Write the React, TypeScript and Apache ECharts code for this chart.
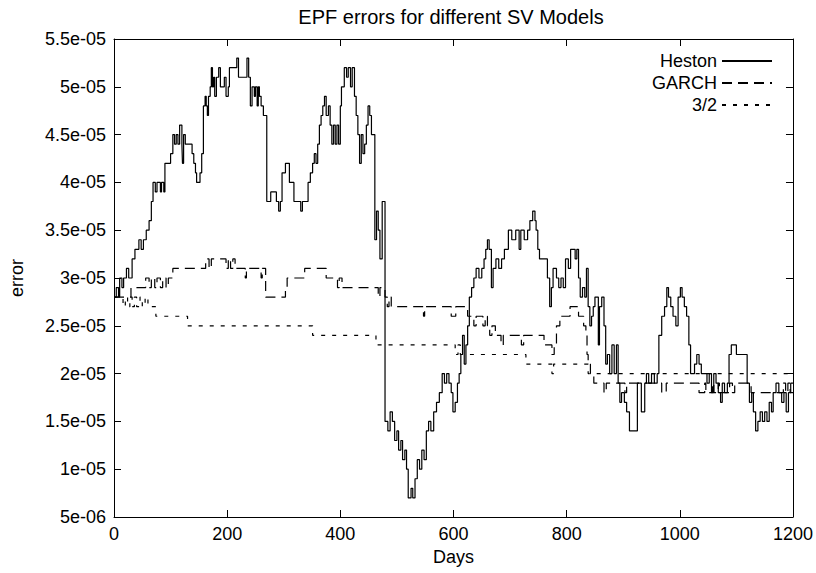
import React, { useEffect, useRef } from "react";
import * as echarts from "echarts";

// Values are in units of 1e-6 (e.g. 28 means 2.8e-05)
const X_TICKS = [0, 200, 400, 600, 800, 1000, 1200];
const Y_MIN = 5;
const Y_MAX = 55;
const Y_STEP = 5;
const SERIES_NAMES = ["Heston", "GARCH", "3/2"];

const HESTON: [number, number][] = [
  [0, 28], [4, 29], [8, 28], [10, 30], [14, 29], [17, 30], [22, 31], [26, 30], [32, 32], [37, 33],
  [44, 34], [48, 33], [52, 34], [57, 35], [62, 36], [66, 38], [69, 40], [73, 39], [76, 40], [82, 39],
  [84, 40], [88, 39], [90, 42], [100, 43], [104, 45], [107, 44], [110, 45], [113, 44], [116, 46], [120, 44],
  [121, 42], [123, 45], [126, 44], [131, 44], [138, 43], [141, 42], [144, 41], [146, 40], [150, 40], [152, 41],
  [155, 43], [158, 48], [161, 49], [163, 48], [165, 47], [167, 49], [170, 50], [172, 52], [174, 50], [176, 51],
  [178, 49], [181, 51], [185, 52], [188, 50], [195, 51], [198, 49], [202, 50], [204, 52], [214, 52], [217, 53],
  [220, 51], [233, 51], [235, 53], [238, 51], [241, 48], [244, 50], [248, 49], [250, 50], [253, 48], [255, 50],
  [257, 49], [260, 48], [264, 47], [268, 47], [270, 38], [277, 39], [287, 38], [291, 37], [294, 38], [297, 41],
  [303, 42], [310, 40], [318, 38], [330, 37], [333, 38], [343, 40], [347, 41], [351, 42], [354, 43], [357, 42],
  [360, 44], [363, 46], [366, 47], [369, 48], [372, 49], [375, 47], [379, 48], [382, 46], [385, 44], [388, 46],
  [391, 44], [394, 46], [397, 44], [400, 48], [402, 50], [407, 52], [411, 51], [414, 52], [418, 50], [421, 52],
  [425, 49], [428, 47], [431, 45], [434, 42], [437, 45], [440, 43], [443, 44], [446, 46], [449, 48], [452, 47],
  [455, 45], [458, 45], [461, 34], [464, 37], [467, 35], [470, 32], [474, 38], [477, 38], [479, 15], [484, 14],
  [488, 16], [492, 15], [496, 13], [500, 14], [503, 12], [507, 13], [510, 11], [514, 12], [517, 10], [520, 7],
  [525, 8], [528, 7], [532, 9], [536, 11], [540, 10], [544, 12], [548, 11], [552, 14], [556, 15], [560, 14],
  [565, 16], [570, 17], [575, 18], [580, 20], [584, 19], [588, 20], [592, 19], [596, 18], [599, 16], [603, 17],
  [607, 19], [610, 20], [613, 22], [616, 24], [619, 21], [622, 23], [625, 25], [628, 28], [632, 29], [636, 30],
  [640, 31], [645, 30], [650, 31], [654, 32], [657, 33], [660, 34], [663, 33], [667, 29], [670, 31], [675, 32],
  [680, 31], [685, 32], [690, 33], [697, 35], [703, 34], [710, 35], [716, 33], [719, 35], [725, 34], [731, 35],
  [735, 36], [740, 37], [744, 36], [746, 35], [749, 33], [752, 32], [762, 32], [766, 30], [770, 27], [773, 29],
  [776, 31], [782, 30], [786, 29], [790, 30], [794, 29], [798, 32], [803, 31], [807, 33], [815, 32], [818, 33],
  [821, 30], [824, 28], [828, 29], [832, 28], [835, 31], [838, 27], [841, 25], [844, 26], [847, 27], [850, 28],
  [856, 23], [858, 27], [862, 28], [866, 25], [869, 21], [872, 22], [876, 20], [880, 23], [884, 20], [888, 23],
  [891, 19], [894, 17], [897, 18], [902, 17], [906, 16], [911, 14], [922, 14], [925, 19], [929, 19], [932, 16],
  [936, 16], [938, 19], [941, 20], [945, 19], [950, 20], [955, 19], [960, 20], [963, 24], [968, 26], [973, 27],
  [977, 29], [980, 28], [984, 27], [988, 26], [993, 25], [997, 28], [1001, 29], [1004, 28], [1008, 27], [1012, 26],
  [1016, 23], [1019, 20], [1026, 21], [1030, 22], [1034, 21], [1038, 20], [1044, 20], [1048, 19], [1052, 20], [1056, 18],
  [1060, 20], [1064, 19], [1068, 18], [1072, 17], [1075, 19], [1079, 18], [1084, 19], [1087, 22], [1091, 23], [1097, 23],
  [1100, 22], [1116, 22], [1119, 19], [1123, 17], [1127, 18], [1130, 16], [1134, 14], [1138, 15], [1142, 16], [1146, 15],
  [1150, 16], [1154, 15], [1158, 17], [1162, 16], [1165, 18], [1170, 19], [1175, 18], [1180, 17], [1184, 18], [1188, 16],
  [1192, 18], [1196, 19], [1200, 19],
];

const GARCH: [number, number][] = [
  [0, 28], [12, 28], [30, 29], [52, 29], [56, 30], [62, 29], [66, 30], [72, 29], [76, 30], [82, 29],
  [86, 30], [92, 29], [96, 30], [104, 31], [160, 31], [162, 32], [168, 31], [172, 32], [195, 32], [198, 31],
  [202, 32], [206, 31], [210, 32], [214, 31], [230, 31], [232, 30], [234, 31], [258, 31], [260, 30], [262, 31],
  [268, 28], [300, 28], [303, 29], [306, 30], [335, 30], [337, 31], [372, 31], [375, 30], [392, 30], [395, 29],
  [398, 30], [403, 29], [465, 29], [467, 28], [470, 29], [479, 28], [483, 27], [486, 28], [490, 27], [545, 27],
  [547, 26], [549, 27], [593, 27], [596, 26], [602, 26], [604, 27], [622, 27], [625, 26], [633, 26], [636, 25],
  [640, 26], [648, 26], [652, 25], [656, 26], [660, 25], [664, 24], [668, 25], [674, 24], [680, 24], [684, 23],
  [688, 24], [716, 24], [720, 23], [724, 24], [756, 24], [760, 23], [774, 22], [778, 23], [782, 25], [788, 26],
  [806, 27], [818, 27], [821, 26], [830, 25], [834, 24], [836, 22], [838, 21], [842, 20], [848, 19], [860, 19],
  [866, 18], [870, 19], [900, 19], [903, 18], [906, 19], [966, 19], [968, 18], [976, 19], [1032, 19], [1034, 18],
  [1040, 18], [1044, 19], [1046, 18], [1056, 18], [1058, 19], [1060, 18], [1068, 19], [1070, 18], [1085, 18], [1088, 19],
  [1093, 18], [1097, 19], [1124, 19], [1126, 18], [1180, 18], [1183, 19], [1187, 18], [1191, 19], [1195, 18], [1200, 18],
];

const THREE_HALVES: [number, number][] = [
  [0, 28], [14, 28], [16, 27], [20, 28], [24, 27], [28, 28], [32, 27], [36, 28], [40, 27], [46, 28],
  [50, 27], [55, 28], [60, 27], [72, 27], [74, 26], [128, 26], [130, 25], [349, 25], [351, 24], [460, 24],
  [463, 23], [600, 23], [603, 22], [608, 23], [612, 22], [726, 22], [728, 21], [772, 21], [774, 20], [777, 21],
  [836, 21], [838, 20], [1200, 20],
];

const FONT = "'Liberation Sans', Arial, Helvetica, sans-serif";

function fmtSci(u: number): string {
  const exp = u >= 10 ? 5 : 6;
  const m = u >= 10 ? u / 10 : u;
  const ms = parseFloat(m.toFixed(3)).toString();
  return `${ms}e-0${exp}`;
}

export default function App() {
  const ref = useRef<HTMLDivElement>(null);
  useEffect(() => {
    document.body.style.margin = "0";
    const chart = echarts.init(ref.current!, undefined, { renderer: "svg" });
    const axisLine = { show: true, onZero: false, lineStyle: { color: "#000", width: 1 } };
    const tick = { show: true, inside: true, length: 7, lineStyle: { color: "#000", width: 1 } };
    const label = { color: "#000", fontSize: 18, fontFamily: FONT };
    const dashes: any[] = ["solid", [10, 6], [4, 7]];
    const datasets = [HESTON, GARCH, THREE_HALVES];
    chart.setOption({
      animation: false,
      backgroundColor: "#fff",
      title: {
        text: "EPF errors for different SV Models",
        left: 451,
        textAlign: "center",
        top: 7,
        padding: 0,
        textStyle: { color: "#000", fontSize: 20, fontWeight: "normal", fontFamily: FONT },
      },
      legend: {
        orient: "vertical",
        right: 43,
        top: 52,
        align: "right",
        itemWidth: 50,
        itemHeight: 18,
        itemGap: 4,
        padding: 0,
        data: SERIES_NAMES,
        itemStyle: { opacity: 0 },
        textStyle: { color: "#000", fontSize: 18, lineHeight: 18, fontFamily: FONT, padding: [0, 0, 0, 0] },
      },
      grid: { left: 109, right: 23, top: 39, bottom: 56, containLabel: false },
      xAxis: [
        {
          type: "value",
          min: X_TICKS[0],
          max: X_TICKS[X_TICKS.length - 1],
          interval: X_TICKS[1] - X_TICKS[0],
          position: "bottom",
          axisLine,
          axisTick: tick,
          axisLabel: { ...label, margin: 8, formatter: (v: number) => String(v) },
          splitLine: { show: false },
          name: "Days",
          nameLocation: "middle",
          nameGap: 25,
          nameTextStyle: label,
        },
        {
          type: "value",
          min: X_TICKS[0],
          max: X_TICKS[X_TICKS.length - 1],
          interval: X_TICKS[1] - X_TICKS[0],
          position: "top",
          axisLine,
          axisTick: tick,
          axisLabel: { show: false },
          splitLine: { show: false },
        },
      ],
      yAxis: [
        {
          type: "value",
          min: Y_MIN,
          max: Y_MAX,
          interval: Y_STEP,
          position: "left",
          axisLine,
          axisTick: tick,
          axisLabel: { ...label, margin: 8, formatter: (v: number) => fmtSci(v) },
          splitLine: { show: false },
          name: "error",
          nameLocation: "middle",
          nameGap: 88,
          nameTextStyle: label,
        },
        {
          type: "value",
          min: Y_MIN,
          max: Y_MAX,
          interval: Y_STEP,
          position: "right",
          axisLine,
          axisTick: tick,
          axisLabel: { show: false },
          splitLine: { show: false },
        },
      ],
      series: SERIES_NAMES.map((name, i) => ({
        name,
        type: "line",
        xAxisIndex: 0,
        yAxisIndex: 0,
        step: "end",
        symbol: "none",
        showSymbol: false,
        data: datasets[i],
        lineStyle: { color: "#000", width: 1.2, type: dashes[i] },
        itemStyle: { color: "#000" },
        z: 3 - i,
      })),
    });
    return () => chart.dispose();
  }, []);
  return (
    <div
      ref={ref}
      style={{ position: "fixed", left: 0, top: 0, width: 816, height: 573, background: "#fff" }}
    />
  );
}
